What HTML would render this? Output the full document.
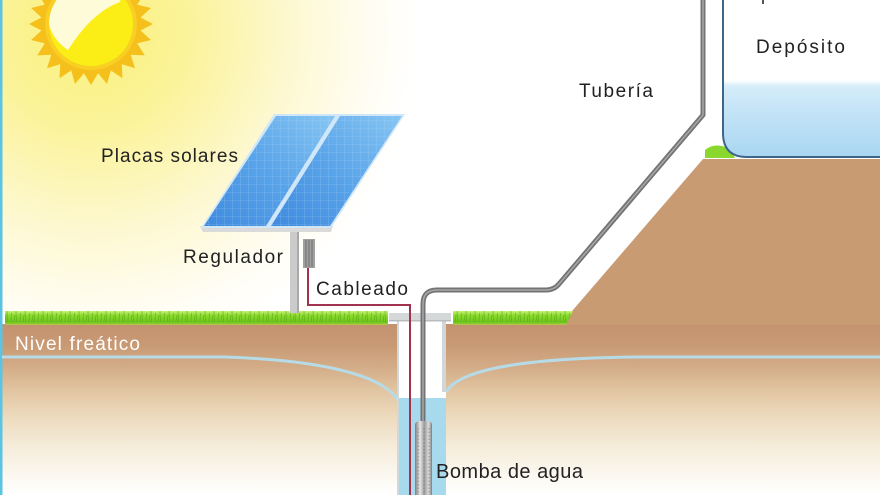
<!DOCTYPE html>
<html><head><meta charset="utf-8"><style>
html,body{margin:0;padding:0;background:#fff;}
svg{display:block;}
text{font-family:"Liberation Sans",sans-serif;}
</style></head><body>
<svg width="880" height="495" viewBox="0 0 880 495" xmlns="http://www.w3.org/2000/svg">
<defs>
<radialGradient id="glow" cx="90" cy="30" r="330" gradientUnits="userSpaceOnUse">
<stop offset="0" stop-color="#faf07a"/>
<stop offset="0.3" stop-color="#fbf39a"/>
<stop offset="0.6" stop-color="#fdf8cf"/>
<stop offset="0.85" stop-color="#fffdf2"/>
<stop offset="1" stop-color="#ffffff"/>
</radialGradient>
<linearGradient id="soil" x1="0" y1="325" x2="0" y2="495" gradientUnits="userSpaceOnUse">
<stop offset="0" stop-color="#c49270"/>
<stop offset="0.12" stop-color="#c89a74"/>
<stop offset="0.25" stop-color="#d3ad88"/>
<stop offset="0.4" stop-color="#e3c7a4"/>
<stop offset="0.55" stop-color="#eddcbf"/>
<stop offset="0.72" stop-color="#f5ecdb"/>
<stop offset="0.9" stop-color="#fcf9f2"/>
<stop offset="1" stop-color="#ffffff"/>
</linearGradient>
<linearGradient id="grass" x1="0" y1="0" x2="0" y2="1">
<stop offset="0" stop-color="#c6f07a"/>
<stop offset="0.3" stop-color="#8fdc30"/>
<stop offset="0.8" stop-color="#6cc51c"/>
<stop offset="1" stop-color="#b8c850"/>
</linearGradient>
<pattern id="blades" x="0" y="0" width="9" height="14" patternUnits="userSpaceOnUse">
<path d="M2,14 L2.5,5 M5,14 L6,7 M7.5,14 L7,3" stroke="#4ea012" stroke-width="0.8" opacity="0.6"/>
</pattern>
<linearGradient id="panel" x1="0" y1="1" x2="1" y2="0">
<stop offset="0" stop-color="#3f8ade"/>
<stop offset="0.5" stop-color="#5aa4ea"/>
<stop offset="1" stop-color="#86c6f3"/>
</linearGradient>
<pattern id="cells" x="0" y="0" width="8" height="8" patternUnits="userSpaceOnUse">
<path d="M0,0 H8 M0,0 V8" stroke="#b6dcf7" stroke-width="0.6" opacity="0.6"/>
</pattern>
<linearGradient id="water" x1="0" y1="80" x2="0" y2="157" gradientUnits="userSpaceOnUse">
<stop offset="0" stop-color="#ffffff"/>
<stop offset="0.08" stop-color="#d6edfa"/>
<stop offset="0.4" stop-color="#c4e4f7"/>
<stop offset="1" stop-color="#a9d6f1"/>
</linearGradient>
<linearGradient id="pump" x1="0" y1="0" x2="1" y2="0">
<stop offset="0" stop-color="#7d7d7d"/>
<stop offset="0.3" stop-color="#e6e6e6"/>
<stop offset="0.55" stop-color="#9a9a9a"/>
<stop offset="0.8" stop-color="#dedede"/>
<stop offset="1" stop-color="#7a7a7a"/>
</linearGradient>
<clipPath id="tankclip"><path d="M723,-10 V133 Q723,157 747,157 H890 V-10 Z"/></clipPath>
<clipPath id="sunclip"><circle cx="91" cy="24" r="42"/></clipPath>
</defs>

<!-- background and sun glow -->
<rect x="0" y="0" width="880" height="495" fill="#fff"/>
<circle cx="90" cy="30" r="330" fill="url(#glow)"/>

<!-- sun -->
<polygon fill="#f5bf1c" points="
153,24 140.5,30.5 150.9,40 137.2,43.4 144.7,55.4 130.7,54.8 135,68.3 121.7,64.1 122.5,78.2 110.8,70.4 107,84 98.1,73.1 91,85 84,73.1 75,84 71.3,70.4 59.5,78.2 60.3,64.1 47,68.3 51.3,54.8 37.3,55.4 44.8,43.4 31.1,40 41.5,30.5 29,24 41.5,17.5 31.1,8 44.8,4.6 37.3,-7.4 51.3,-6.8 47,-20.3 60.3,-16.1 59.5,-30.2 71.3,-22.4 75,-36 84,-25.1 91,-37 98.1,-25.1 107,-36 110.8,-22.4 122.5,-30.2 121.7,-16.1 135,-20.3 130.7,-6.8 144.7,-7.4 137.2,4.6 150.9,8 140.5,17.5"/>
<circle cx="91" cy="24" r="46" fill="#f8cf22"/>
<circle cx="91" cy="24" r="42" fill="#fbee16"/>
<path clip-path="url(#sunclip)" d="M48,-20 L125,-20 L120,2 Q92,12 68,50 Q50,38 48,18 Z" fill="#fefbd8"/>

<!-- left cyan edge -->
<rect x="0" y="0" width="2.5" height="495" fill="#5cc4e2"/>

<!-- soil -->
<rect x="2.5" y="324" width="878" height="171" fill="url(#soil)"/>
<!-- hill -->
<polygon points="560,325 703,159 880,159 880,325" fill="#c89b73"/>
<!-- white margin between pipe slope and hill is background -->

<!-- water table -->
<path d="M2,357 H225 C310,360 380,372 398,400" fill="none" stroke="#b7dbe6" stroke-width="3"/>
<path d="M880,357 H640 C530,358 460,368 446,392" fill="none" stroke="#b7dbe6" stroke-width="3"/>

<!-- well -->
<rect x="398" y="320" width="48" height="80" fill="#fff"/>
<rect x="398" y="398" width="48" height="97" fill="#a8daee"/>
<rect x="397" y="320" width="2" height="175" fill="#cfd8dc"/>
<rect x="442" y="320" width="4" height="72" fill="#d3d6d8"/>
<rect x="389" y="313" width="62" height="8" fill="#d5d8d9"/>
<rect x="389" y="320" width="62" height="1.5" fill="#b9bcbd"/>

<!-- grass strips -->
<rect x="5" y="311" width="383" height="14" fill="url(#grass)"/>
<rect x="5" y="311" width="383" height="14" fill="url(#blades)"/>
<polygon points="453,311 573,311 566,325 453,325" fill="url(#grass)"/>
<polygon points="453,311 573,311 566,325 453,325" fill="url(#blades)"/>
<path d="M705,158 V150 Q712,144 722,146 Q730,148 735,158 Z" fill="#8ad72e"/>

<!-- pole & regulator -->
<rect x="290" y="228" width="9" height="85" fill="#cbcbcb"/>
<rect x="297" y="228" width="2" height="85" fill="#a9a9a9"/>
<rect x="303" y="239" width="12" height="29" fill="#a0a0a0"/>
<path d="M306,240 V267 M309,240 V267 M312,240 V267" stroke="#6e6e6e" stroke-width="1"/>

<!-- solar panels -->
<polygon points="200,226 333,226 331,232 203,232" fill="#dadada"/>
<polygon points="274,114 405,114 331,228 201,228" fill="#cfe7f8"/>
<polygon points="276,116 335,116 266,226 204,226" fill="url(#panel)"/>
<polygon points="276,116 335,116 266,226 204,226" fill="url(#cells)"/>
<polygon points="340,116 402,116 330,226 271,226" fill="url(#panel)"/>
<polygon points="340,116 402,116 330,226 271,226" fill="url(#cells)"/>

<!-- cable -->
<path d="M308,268 V305 H410 V495" fill="none" stroke="#a2334f" stroke-width="2"/>

<!-- pipe -->
<path d="M423,425 V304 Q423,290 437,290 H546 Q554,290 559,284 L703,115 V-5" fill="none" stroke="#737373" stroke-width="5" stroke-linejoin="round"/>
<path d="M423,425 V304 Q423,290 437,290 H546 Q554,290 559,284 L703,115 V-5" fill="none" stroke="#a8a8a8" stroke-width="1.5" stroke-linejoin="round"/>

<!-- pump -->
<rect x="415" y="421" width="17" height="80" rx="4" fill="url(#pump)"/>
<path d="M418,428 V495 M424,428 V495 M429,428 V495" stroke="#777" stroke-width="0.7" stroke-dasharray="1.5 2"/>

<!-- tank -->
<path d="M723,-10 V133 Q723,157 747,157 H890 V-10 Z" fill="#fff"/>
<rect x="700" y="80" width="190" height="80" fill="url(#water)" clip-path="url(#tankclip)"/>
<path d="M723,-10 V133 Q723,157 747,157 H890" fill="none" stroke="#3e6688" stroke-width="2"/>
<rect x="762" y="0" width="2" height="4" fill="#555"/>

<!-- labels -->
<text x="101" y="162" font-size="19" fill="#222" textLength="137" lengthAdjust="spacing">Placas solares</text>
<text x="183" y="263" font-size="19" fill="#222" textLength="100" lengthAdjust="spacing">Regulador</text>
<text x="316" y="295" font-size="19" fill="#222" textLength="92" lengthAdjust="spacing">Cableado</text>
<text x="579" y="97" font-size="19" fill="#222" textLength="74" lengthAdjust="spacing">Tubería</text>
<text x="756" y="53" font-size="19" fill="#222" textLength="89" lengthAdjust="spacing">Depósito</text>
<text x="15" y="350" font-size="19" fill="#fff" textLength="125" lengthAdjust="spacing">Nivel freático</text>
<text x="436" y="478" font-size="20" fill="#222" textLength="147" lengthAdjust="spacing">Bomba de agua</text>
</svg>
</body></html>
